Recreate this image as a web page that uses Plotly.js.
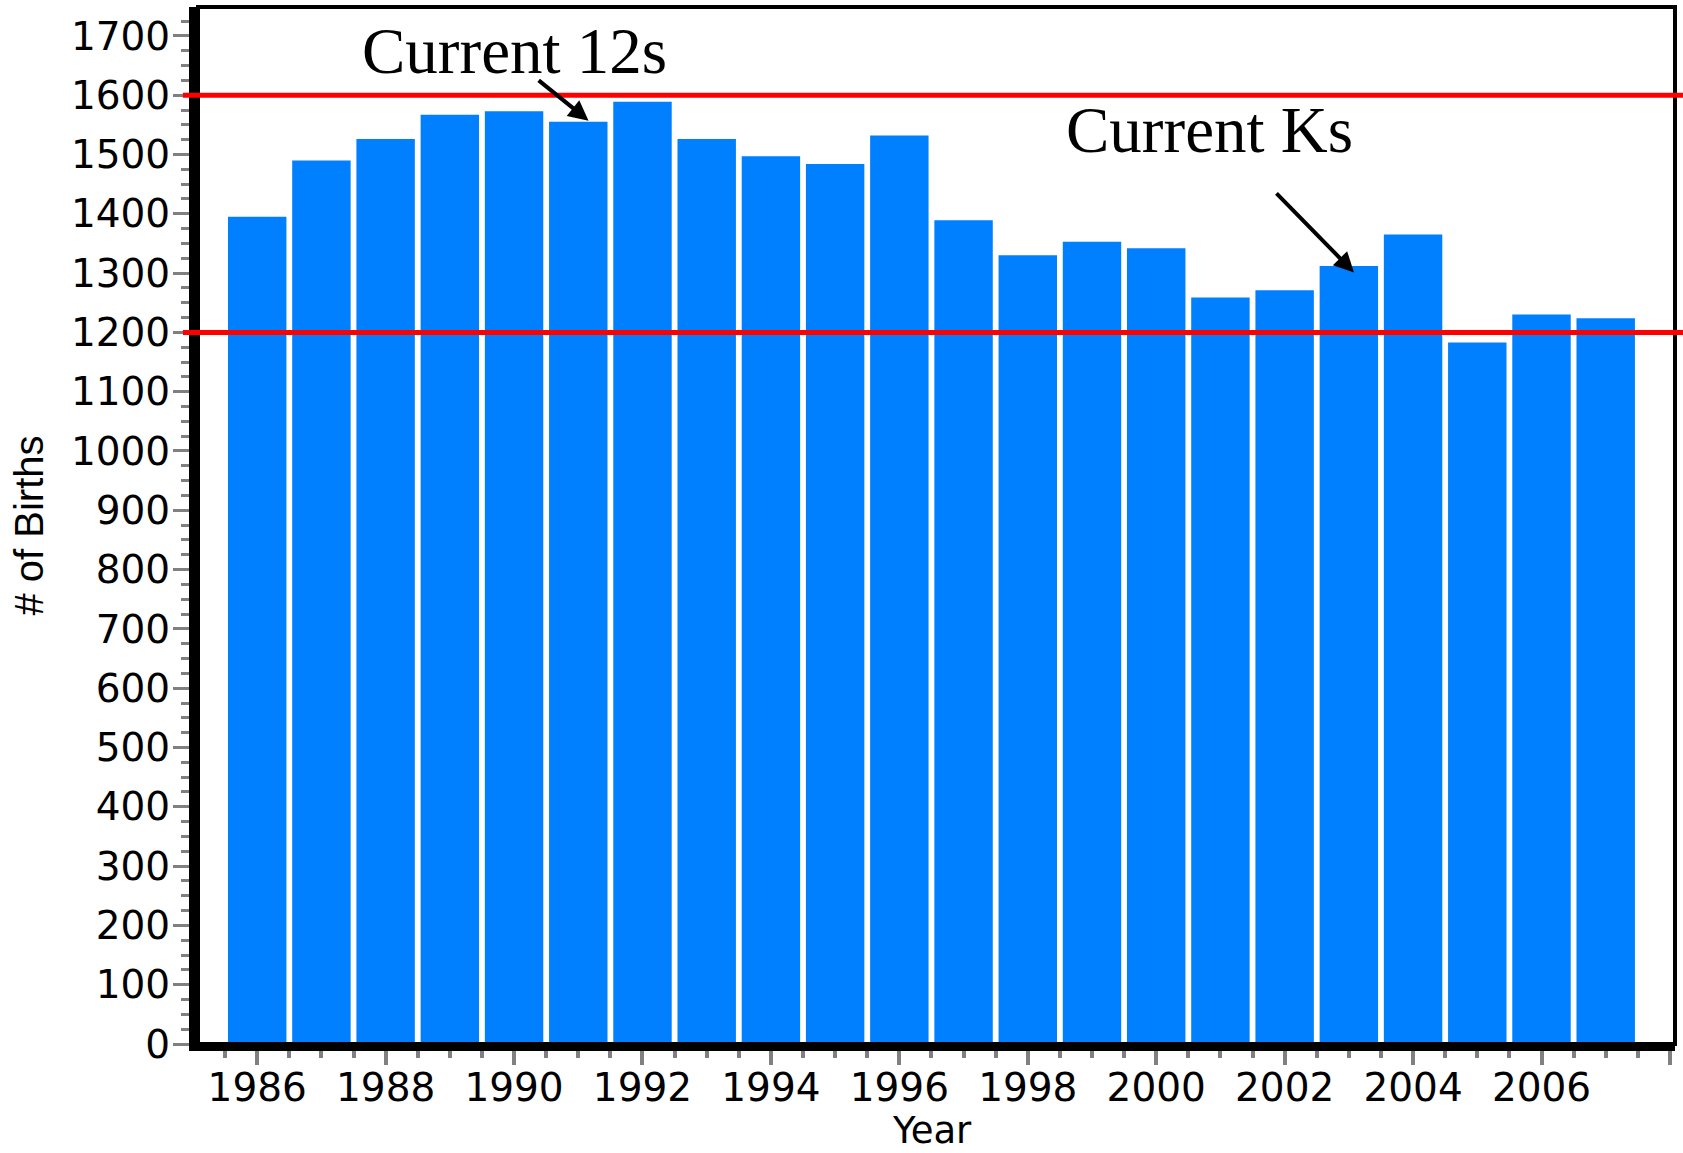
<!DOCTYPE html>
<html>
<head>
<meta charset="utf-8">
<script src="https://cdn.plot.ly/plotly-3.0.1.min.js"></script>
<style>
  html, body { margin: 0; padding: 0; background: #ffffff; }
  #chart { width: 1683px; height: 1153px; }
</style>
</head>
<body>
<div id="chart"></div>
<script>
// ---- data ----
const years = [1986, 1987, 1988, 1989, 1990, 1991, 1992, 1993, 1994, 1995, 1996,
               1997, 1998, 1999, 2000, 2001, 2002, 2003, 2004, 2005, 2006, 2007];
const births = [1395, 1490, 1526, 1567, 1573, 1555, 1589, 1526, 1497, 1484, 1532,
                1389, 1330, 1353, 1342, 1259, 1271, 1312, 1365, 1183, 1230, 1224];
const refLines = [1600, 1200];
const labels = ["Current 12s", "Current Ks"];
const xTitle = "Year";
const yTitle = "# of Births";

const tickFont = { family: "DejaVu Sans", size: 39, color: "#000000" };

const shapes = [
  { type: "rect", xref: "paper", yref: "paper", x0: 0, x1: 1, y0: 0, y1: 1,
    line: { color: "#000000", width: 4 }, layer: "above" }
];
refLines.forEach(v => {
  shapes.push({ type: "line", xref: "paper", yref: "y", x0: -0.0102, x1: 1.006, y0: v, y1: v,
                line: { color: "#ff0000", width: 5 }, layer: "above" });
});

const annotations = [
  { x: 1990.01, y: 1675, xref: "x", yref: "y", text: labels[0], showarrow: false,
    font: { family: "Liberation Serif", size: 65, color: "#000000" } },
  { x: 2000.83, y: 1541, xref: "x", yref: "y", text: labels[1], showarrow: false,
    font: { family: "Liberation Serif", size: 65, color: "#000000" } },
  { x: 1991.16, y: 1557, xref: "x", yref: "y", axref: "x", ayref: "y",
    ax: 1990.36, ay: 1627, text: "", showarrow: true, arrowhead: 2, arrowsize: 1,
    arrowwidth: 4, arrowcolor: "#000000", standoff: 0, startstandoff: 0 },
  { x: 2003.08, y: 1301, xref: "x", yref: "y", axref: "x", ayref: "y",
    ax: 2001.85, ay: 1437, text: "", showarrow: true, arrowhead: 2, arrowsize: 1,
    arrowwidth: 4, arrowcolor: "#000000", standoff: 0, startstandoff: 0 },
  // x-axis title
  { x: 0.497, y: -0.0615, xref: "paper", yref: "paper", xanchor: "center", yanchor: "top",
    text: xTitle, showarrow: false, borderpad: 0,
    font: { family: "DejaVu Sans", size: 37, color: "#000000" } }
];

const trace = {
  type: "bar",
  x: years,
  y: births,
  marker: { color: "#0080ff", line: { width: 0 } },
  hoverinfo: "x+y"
};

const layout = {
  width: 1683,
  height: 1153,
  margin: { l: 198, r: 8, t: 7, b: 109, pad: 0 },
  paper_bgcolor: "#ffffff",
  plot_bgcolor: "#ffffff",
  showlegend: false,
  bargap: 0.09,
  xaxis: {
    type: "linear",
    range: [1985.078, 2008.079],
    tick0: 1986, dtick: 2,
    ticks: "outside", ticklen: 14, tickwidth: 4, tickcolor: "#808080",
    minor: { tick0: 1986, dtick: 0.5, ticks: "outside", ticklen: 7, tickwidth: 4, tickcolor: "#808080", showgrid: false },
    showline: true, linewidth: 7, linecolor: "#000000",
    showgrid: false, zeroline: false,
    tickfont: tickFont,
    ticklabelstandoff: -11
  },
  yaxis: {
    range: [0, 1748.7],
    tick0: 0, dtick: 100,
    ticks: "outside", ticklen: 16, tickwidth: 3, tickcolor: "#808080",
    minor: { tick0: 0, dtick: 25, ticks: "outside", ticklen: 8, tickwidth: 3, tickcolor: "#808080", showgrid: false },
    showline: true, linewidth: 9, linecolor: "#000000",
    showgrid: false, zeroline: false,
    tickfont: tickFont,
    ticklabelstandoff: -5,
    title: { text: yTitle, font: { family: "Liberation Sans", size: 40, color: "#000000" }, standoff: 18 }
  },
  shapes: shapes,
  annotations: annotations
};

Plotly.newPlot("chart", [trace], layout, { displayModeBar: false, staticPlot: true });
</script>
</body>
</html>
